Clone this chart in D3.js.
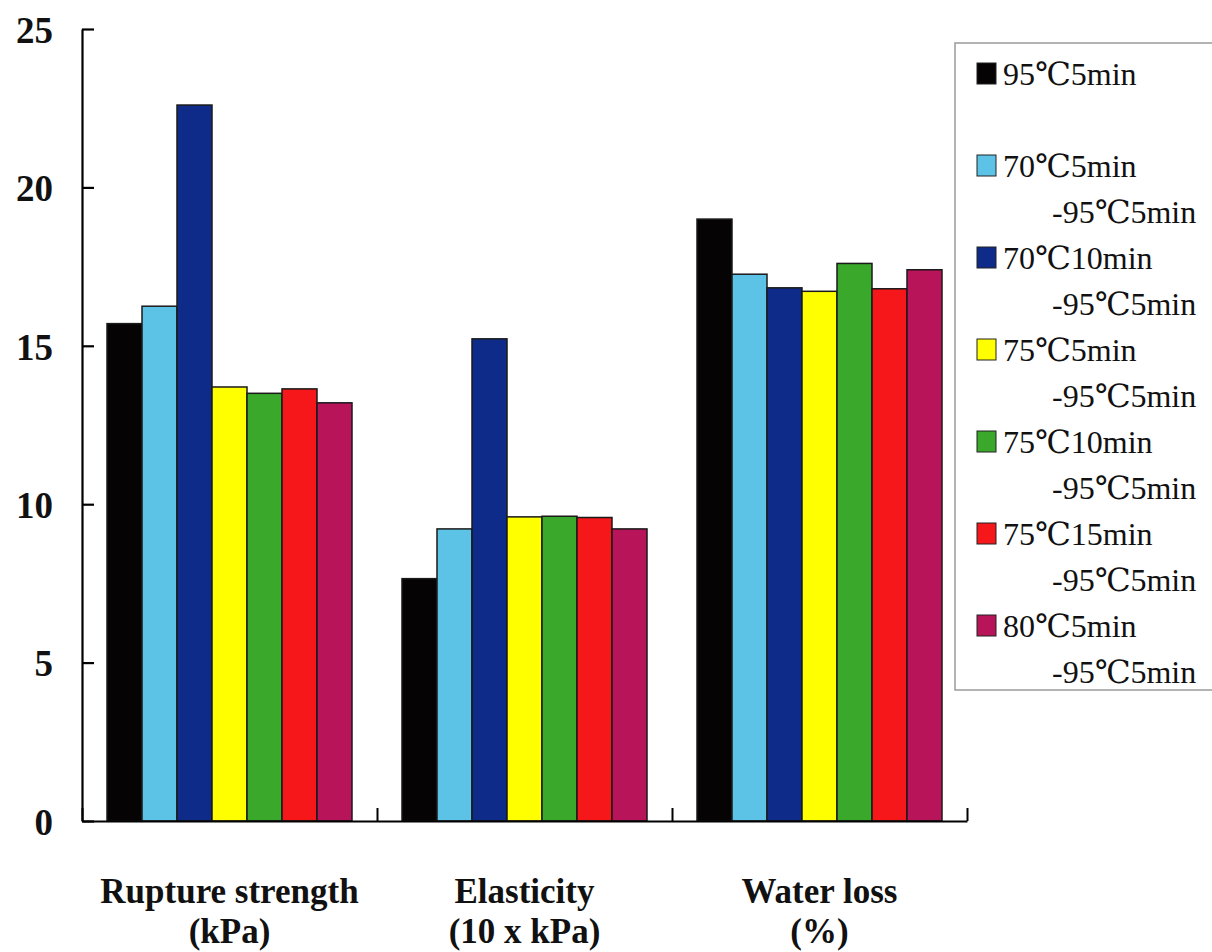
<!DOCTYPE html>
<html>
<head>
<meta charset="utf-8">
<script src="https://cdn.jsdelivr.net/npm/d3@7/dist/d3.min.js"></script>
<style>
  html, body { margin: 0; padding: 0; background: #ffffff; }
  svg { display: block; }
</style>
</head>
<body>
<svg id="chart" width="1212" height="952"></svg>
<script>
// ---- data ----
const categories = ["Rupture strength", "Elasticity", "Water loss"];
const categoryUnits = ["(kPa)", "(10 x kPa)", "(%)"];
const seriesNames = [
  ["95℃5min", ""],
  ["70℃5min", "-95℃5min"],
  ["70℃10min", "-95℃5min"],
  ["75℃5min", "-95℃5min"],
  ["75℃10min", "-95℃5min"],
  ["75℃15min", "-95℃5min"],
  ["80℃5min", "-95℃5min"]
];
const seriesColors = ["#050303", "#5cc3e6", "#0f2b8a", "#ffff00", "#3aa82a", "#f5171a", "#b81459"];
// values per series: [Rupture strength, Elasticity, Water loss]
const s95_5 = [15.7, 7.65, 19.0];
const s70_5 = [16.25, 9.22, 17.26];
const s70_10 = [22.6, 15.22, 16.83];
const s75_5 = [13.7, 9.6, 16.72];
const s75_10 = [13.5, 9.62, 17.6];
const s75_15 = [13.64, 9.58, 16.8];
const s80_5 = [13.2, 9.22, 17.4];
const seriesValues = [s95_5, s70_5, s70_10, s75_5, s75_10, s75_15, s80_5];
const yTicks = [0, 5, 10, 15, 20, 25];

(function () {
// ---- layout ----
const svg = d3.select("#chart");
const mLeft = 82, mRight = 967, mTop = 29, mBottom = 821;
const serif = "'Liberation Serif', 'Times New Roman', 'DejaVu Serif', serif";

const y = d3.scaleLinear().domain([0, 25]).range([mBottom, mTop]);
const x0 = d3.scaleBand().domain(categories).range([mLeft, mRight]).padding(0);
const x1 = d3.scaleBand().domain(d3.range(seriesNames.length))
  .range([25, x0.bandwidth() - 25]).padding(0);
const xEdge = d3.scaleLinear().domain([0, categories.length]).range([mLeft, mRight]);

// bars
const groups = svg.append("g").selectAll("g")
  .data(categories).join("g")
  .attr("transform", d => `translate(${x0(d)},0)`);
groups.selectAll("rect")
  .data((c, ci) => seriesValues.map((vals, si) => ({ si, v: vals[ci] })))
  .join("rect")
  .attr("x", d => x1(d.si))
  .attr("y", d => y(d.v))
  .attr("width", x1.bandwidth())
  .attr("height", d => y(0) - y(d.v))
  .attr("fill", d => seriesColors[d.si])
  .attr("stroke", "#1a1a1a")
  .attr("stroke-width", 1.5);

// y axis
const yAxis = svg.append("g")
  .attr("transform", `translate(${mLeft},0)`)
  .call(d3.axisLeft(y).tickValues(yTicks).tickSizeInner(-12).tickSizeOuter(0).tickPadding(29));
yAxis.select(".domain").attr("stroke", "#000").attr("stroke-width", 2.2);
yAxis.selectAll(".tick line").attr("stroke", "#000").attr("stroke-width", 2.2);
yAxis.selectAll(".tick text")
  .attr("font-family", serif).attr("font-size", 37).attr("font-weight", "bold")
  .attr("fill", "#111").attr("dy", "0.36em");

// x axis (boundary ticks)
const xAxis = svg.append("g")
  .attr("transform", `translate(0,${mBottom})`)
  .call(d3.axisBottom(xEdge).tickValues(d3.range(categories.length + 1)).tickSizeInner(-13).tickSizeOuter(0).tickFormat(""));
xAxis.select(".domain").attr("stroke", "#000").attr("stroke-width", 2.2);
xAxis.selectAll(".tick line").attr("stroke", "#000").attr("stroke-width", 2);

// category labels (two lines each)
const labelG = svg.append("g");
labelG.selectAll("text.l1")
  .data(categories).join("text").attr("class", "l1")
  .attr("x", d => x0(d) + x0.bandwidth() / 2)
  .attr("y", mBottom + 82)
  .attr("text-anchor", "middle")
  .attr("font-family", serif).attr("font-size", 35).attr("font-weight", "bold")
  .attr("fill", "#111")
  .text(d => d);
labelG.selectAll("text.l2")
  .data(categories).join("text").attr("class", "l2")
  .attr("x", d => x0(d) + x0.bandwidth() / 2)
  .attr("y", mBottom + 122)
  .attr("text-anchor", "middle")
  .attr("font-family", serif).attr("font-size", 35).attr("font-weight", "bold")
  .attr("fill", "#111")
  .text((d, i) => categoryUnits[i]);

// legend
const legend = svg.append("g");
legend.append("rect")
  .attr("x", 955).attr("y", 43).attr("width", 270).attr("height", 647)
  .attr("fill", "#fff").attr("stroke", "#9a9a9a").attr("stroke-width", 1.5);
const lineH = 46, base0 = 85;
seriesNames.forEach((nm, i) => {
  const b1 = base0 + (i === 0 ? 0 : (2 * i) * lineH);
  legend.append("rect")
    .attr("x", 977).attr("y", b1 - 22).attr("width", 19).attr("height", 21)
    .attr("fill", seriesColors[i]).attr("stroke", "#222").attr("stroke-width", 1);
  legend.append("text")
    .attr("x", 1003).attr("y", b1)
    .attr("font-family", serif).attr("font-size", 32).attr("fill", "#111")
    .text(nm[0]);
  if (nm[1]) {
    legend.append("text")
      .attr("x", 1052).attr("y", b1 + lineH)
      .attr("font-family", serif).attr("font-size", 32).attr("fill", "#111")
      .text(nm[1]);
  }
});
})();
</script>
</body>
</html>
